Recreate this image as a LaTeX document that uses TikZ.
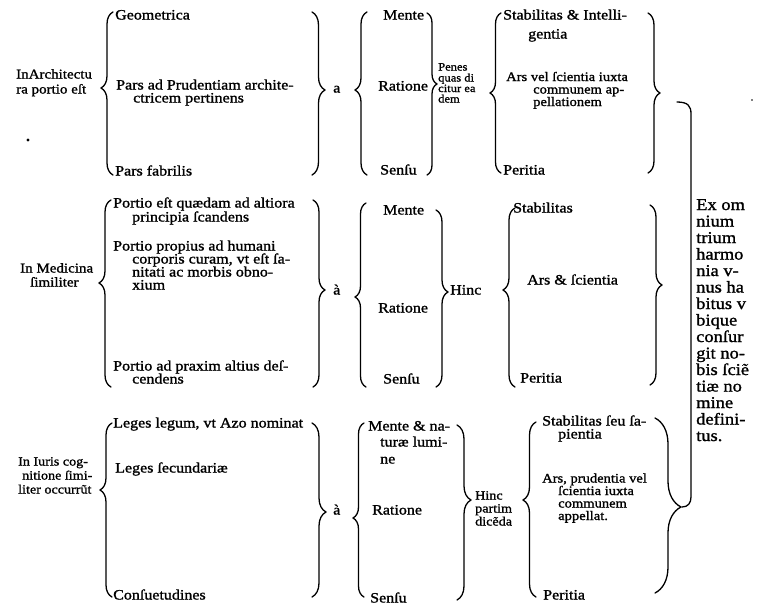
\documentclass[tikz,border=0pt]{standalone}
\usepackage{fontspec}
\setmainfont[FakeStretch=1.12,FakeBold=1.3]{Liberation Serif}
\usetikzlibrary{decorations.pathreplacing}
\tikzset{
  br/.style={line width=1.3pt, line cap=round, line join=round},
  txt/.style={anchor=west, inner sep=0pt, text height=7.5pt, text depth=2.5pt, font=\fontsize{14.3}{13}\selectfont},
  tight/.style={txt, font=\fontsize{13}{12}\selectfont},
  sml/.style={txt, font=\fontsize{12.6}{11}\selectfont},
  tiny/.style={txt, text height=7pt, text depth=2pt, font=\fontsize{11.2}{10}\selectfont},
  head/.style={txt, font=\fontsize{13.4}{12}\selectfont},
  big/.style={txt, text height=9pt, text depth=3pt, font=\fontsize{16.5}{15}\selectfont}
}
% right brace "}" : x, ytop, ybot, ytip, amplitude
\newcommand\BraceR[5]{%
  \pgfmathsetmacro\braceasp{(#4-#2)/(#3-#2)}%
  \draw[br,decorate,decoration={brace,amplitude=#5,aspect=\braceasp}] (#1,#2) -- (#1,#3);}
% left brace "{" : x, ytop, ybot, ytip, amplitude
\newcommand\BraceL[5]{%
  \pgfmathsetmacro\braceasp{(#3-#4)/(#3-#2)}%
  \draw[br,decorate,decoration={brace,amplitude=#5,aspect=\braceasp}] (#1,#3) -- (#1,#2);}
\begin{document}
\begin{tikzpicture}[x=1pt,y=-1pt]
\useasboundingbox (0,0) rectangle (761,606);

% ---------- Row 1 ----------
\node[head] (h1a) at (16,76) {InArchitectu};
\node[head] (h1b) at (16,91) {ra portio eſt};
\BraceL{113}{12}{175}{88}{12}
\node[txt] (a1) at (115,17) {Geometrica};
\node[txt] (a2) at (116,87) {Pars ad Prudentiam archite-};
\node[txt] (a3) at (133,100) {ctricem pertinens};
\node[txt] (a4) at (115,173) {Pars fabrilis};
\BraceR{312}{12}{175}{90}{13}
\node[txt] (p1) at (333,90) {a};
\BraceL{367}{12}{175}{90}{12}
\node[txt] (m1) at (383,17) {Mente};
\node[txt] (m2) at (378,88) {Ratione};
\node[txt] (m3) at (380,172) {Senſu};
\BraceR{427}{13}{175}{84}{10}
\node[tiny] (q1) at (438,68) {Penes};
\node[tiny] (q2) at (438,79) {quas di};
\node[tiny] (q3) at (438,89.5) {citur ea};
\node[tiny] (q4) at (438,100) {dem};
\BraceL{501}{13}{173}{93}{11}
\node[txt] (s1) at (503,17) {Stabilitas \& Intelli-};
\node[txt] (s2) at (528,36) {gentia};
\node[tight] (s3) at (506,78.5) {Ars vel ſcientia iuxta};
\node[tight] (s4) at (533,91) {communem ap-};
\node[tight] (s5) at (533,103.5) {pellationem};
\node[txt] (s6) at (503,172) {Peritia};
\BraceR{648}{13}{173}{93}{12}

% ---------- Row 2 ----------
\node[head] (h2a) at (20,270) {In Medicina};
\node[head] (h2b) at (30,284) {ſimiliter};
\BraceL{111}{200}{387}{283}{12}
\node[txt] (b1) at (113,205) {Portio eſt quædam ad altiora};
\node[txt] (b2) at (132,219) {principia ſcandens};
\node[txt] (b3) at (113,248) {Portio propius ad humani};
\node[txt] (b4) at (132,261) {corporis curam, vt eſt ſa-};
\node[txt] (b5) at (132,274) {nitati ac morbis obno-};
\node[txt] (b6) at (132,287) {xium};
\node[txt] (b7) at (113,368) {Portio ad praxim altius deſ-};
\node[txt] (b8) at (132,381) {cendens};
\BraceR{313}{200}{387}{290}{12}
\node[txt] (p2) at (333,292) {à};
\BraceL{366}{203}{387}{297}{11}
\node[txt] (n1) at (383,212) {Mente};
\node[txt] (n2) at (378,310) {Ratione};
\node[txt] (n3) at (383,381) {Senſu};
\BraceR{436}{210}{387}{292}{12}
\node[txt] (hinc2) at (450,292) {Hinc};
\BraceL{515}{208}{387}{290}{12}
\node[txt] (u1) at (513,210) {Stabilitas};
\node[txt] (u2) at (527,282) {Ars \& ſcientia};
\node[txt] (u3) at (520,380) {Peritia};
\BraceR{650}{205}{385}{285}{12}

% ---------- Row 3 ----------
\node[sml] (h3a) at (18,463) {In Iuris cog-};
\node[sml] (h3b) at (22,477) {nitione ſimi-};
\node[sml] (h3c) at (18,491) {liter occurrũt};
\BraceL{112}{423}{597}{490}{12}
\node[txt] (c1) at (113,425) {Leges legum, vt Azo nominat};
\node[txt] (c2) at (115,470) {Leges ſecundariæ};
\node[txt] (c3) at (113,597) {Conſuetudines};
\BraceR{312}{423}{597}{512}{14}
\node[txt] (p3) at (333,512) {à};
\BraceL{364}{423}{597}{518}{11}
\node[txt] (k1) at (368,428) {Mente \& na-};
\node[txt] (k2) at (380,444) {turæ lumi-};
\node[txt] (k3) at (380,461) {ne};
\node[txt] (k4) at (372,512) {Ratione};
\node[txt] (k5) at (370,600) {Senſu};
\BraceR{457}{425}{600}{500}{14}
\node[sml] (z1) at (475,497) {Hinc};
\node[sml] (z2) at (475,510) {partim};
\node[sml] (z3) at (475,523) {dicẽda};
\BraceL{536}{422}{597}{500}{13}
\node[txt] (v1) at (542,423) {Stabilitas ſeu ſa-};
\node[txt] (v2) at (558,436) {pientia};
\node[tight] (v3) at (542,480) {Ars, prudentia vel};
\node[tight] (v4) at (558,492.5) {ſcientia iuxta};
\node[tight] (v5) at (558,505) {communem};
\node[tight] (v6) at (558,517.5) {appellat.};
\node[txt] (v7) at (543,597) {Peritia};
\BraceR{655}{418}{593}{507}{26}

% ---------- big bracket and conclusion ----------
\draw[br] (677,102) .. controls (688,102) and (691,106) .. (691,114) -- (691,497)
  .. controls (691,503) and (688,507) .. (682,507);
\foreach \t [count=\i from 0] in {Ex om,nium,trium,harmo,nia v-,nus ha,bitus v,bique,conſur,git no-,bis ſciẽ,tiæ no,mine,defini-,tus.}
  \node[big] (e\i) at (696,207+16.5*\i) {\t};

% stray marks of the print
\fill (28,140) circle (1.6pt);
\fill (752,100) circle (0.9pt);
\end{tikzpicture}
\end{document}
